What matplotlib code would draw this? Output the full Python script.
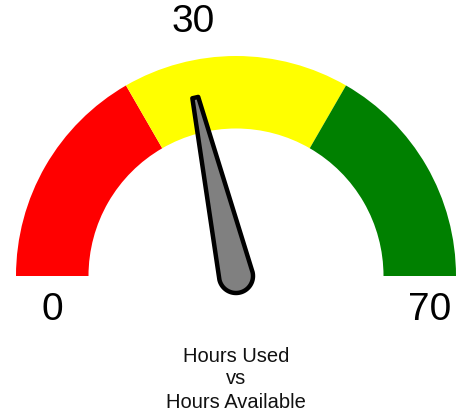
import numpy as np
import matplotlib
matplotlib.use("Agg")
import matplotlib.pyplot as plt
from matplotlib.patches import Wedge, Polygon

# ---- data ----
gauge_min = 0
gauge_max = 70
value = 30
band_edges = [0, 70 / 3, 140 / 3, 70]
band_colors = ["#ff0000", "#ffff00", "#008000"]
title_lines = ["Hours Used", "vs", "Hours Available"]

# ---- layout (pixel-like coordinates, y up) ----
W, H = 457, 416
cx, cy = 236, H - 276
r_out, r_in = 220, 147.5
needle_len = 183
needle_base_r = 17
needle_tip_hw = 3

plt.rcParams["font.family"] = ["Liberation Sans", "DejaVu Sans"]
fig = plt.figure(figsize=(W / 100, H / 100), dpi=100)
ax = fig.add_axes([0, 0, 1, 1])
ax.set_xlim(0, W)
ax.set_ylim(0, H)
ax.set_aspect("equal")
ax.axis("off")


def val2ang(v):
    return 180 - (v - gauge_min) / (gauge_max - gauge_min) * 180


for lo, hi, col in zip(band_edges[:-1], band_edges[1:], band_colors):
    ax.add_patch(Wedge((cx, cy), r_out, val2ang(hi), val2ang(lo),
                       width=r_out - r_in, facecolor=col, edgecolor="none"))

# needle
a = np.deg2rad(val2ang(value))
d = np.array([np.cos(a), np.sin(a)])
n = np.array([-d[1], d[0]])
c = np.array([cx, cy])
tip = c + d * needle_len
pts = [tip + n * needle_tip_hw]
arc = np.linspace(np.pi / 2, 3 * np.pi / 2, 40)
for t in arc:
    pts.append(c + needle_base_r * (np.cos(t) * d + np.sin(t) * n))
pts.append(tip - n * needle_tip_hw)
ax.add_patch(Polygon(pts, closed=True, facecolor="#808080", edgecolor="black",
                     linewidth=3.2, joinstyle="round", zorder=5))

# labels
fs_num = 28
ax.text(52, H - 310, f"{gauge_min}", ha="center", va="center", fontsize=fs_num)
ax.text(430, H - 310, f"{gauge_max}", ha="center", va="center", fontsize=fs_num)
ax.text(tip[0] - 2, H - 22, f"{value}", ha="center", va="center", fontsize=fs_num)

for line, yb in zip(title_lines, [362, 384, 408]):
    ax.text(cx, H - yb, line, ha="center", va="baseline", fontsize=14.5, color="#111111")

fig.savefig("out.png", dpi=100, facecolor="white")
